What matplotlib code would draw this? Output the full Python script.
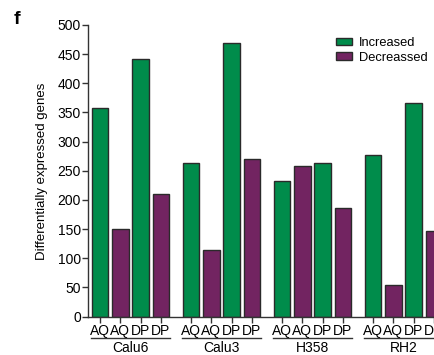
import matplotlib
matplotlib.use('Agg')
import matplotlib.pyplot as plt
import matplotlib.transforms as mtransforms
from matplotlib.patches import Patch
import numpy as np

plt.rcParams['font.family'] = ['Liberation Sans', 'DejaVu Sans']

# Differentially expressed genes per cell line and treatment
cell_lines = ['Calu6', 'Calu3', 'H358', 'RH2']
treatments = ['AQ', 'AQ', 'DP', 'DP']
increased_aq = [357, 263, 232, 277]
decreased_aq = [150, 115, 258, 55]
increased_dp = [442, 469, 263, 367]
decreased_dp = [210, 270, 186, 147]

green = '#008c4b'
purple = '#722461'
edge = '#2a2a2a'

fig = plt.figure(figsize=(4.35, 3.55), dpi=100)
# axes run past the right edge so the last bar is cut off
ax = fig.add_axes([0.2034, 0.108, 0.817, 0.8217])

group_step = 4.5
width = 0.81
x_pos = []
for g in range(len(cell_lines)):
    base = g * group_step
    vals = [increased_aq[g], decreased_aq[g], increased_dp[g], decreased_dp[g]]
    cols = [green, purple, green, purple]
    for i in range(4):
        ax.bar(base + i, vals[i], width=width, color=cols[i],
               edgecolor=edge, linewidth=1.0)
        x_pos.append(base + i)

ax.set_xlim(-0.58, 17.0)
ax.set_ylim(0, 500)
ax.set_yticks(np.arange(0, 501, 50))
ax.set_xticks(x_pos)
ax.set_xticklabels(treatments * len(cell_lines))
ax.tick_params(axis='both', direction='out', length=4, width=1,
               color='#333333', labelsize=10, pad=1.5)
for side in ['top', 'right']:
    ax.spines[side].set_visible(False)
for side in ['left', 'bottom']:
    ax.spines[side].set_linewidth(1.0)
    ax.spines[side].set_color('#333333')

# group underline and cell line name
trans = mtransforms.blended_transform_factory(ax.transData, ax.transAxes)
for g, name in enumerate(cell_lines):
    base = g * group_step
    ax.plot([base - 0.45, base + 3.45], [-0.072, -0.072], color='#333333',
            lw=1.0, transform=trans, clip_on=False)
    ax.text(base + 1.5, -0.106, name, transform=trans, ha='center',
            va='center', fontsize=10)

fig.text(42 / 435, 1 - 171 / 355, 'Differentially expressed genes',
         rotation=90, ha='center', va='center', fontsize=9.5)
fig.text(17 / 435, 1 - 19 / 355, 'f', fontsize=14, fontweight='bold',
         ha='center', va='center')

handles = [Patch(facecolor=green, edgecolor=edge, linewidth=1.0),
           Patch(facecolor=purple, edgecolor=edge, linewidth=1.0)]
fig.legend(handles, ['Increased', 'Decreassed'], loc='upper left',
           bbox_to_anchor=(327 / 435, 1 - 28 / 355), frameon=False,
           fontsize=9.3, handlelength=1.25, handleheight=0.55,
           handletextpad=0.5, labelspacing=0.2, borderpad=0.2)

fig.savefig('out.png', dpi=100)
plt.close(fig)
